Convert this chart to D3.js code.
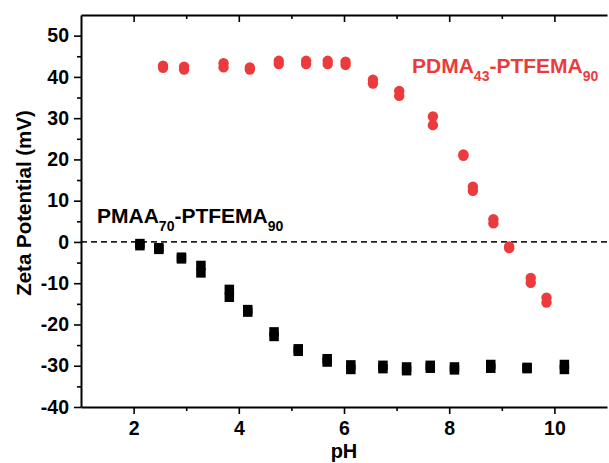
<!DOCTYPE html>
<html>
<head>
<meta charset="utf-8">
<script src="https://cdn.jsdelivr.net/npm/d3@7"></script>
<style>
  body { margin: 0; background: #fff; }
  svg text { font-family: "Liberation Sans", Arial, sans-serif; font-weight: bold; }
</style>
</head>
<body>
<svg width="609" height="463"></svg>
<script>
// PDMA43-PTFEMA90 (red circles), two runs per pH
const pdmaPH = [2.56, 2.96, 3.71, 4.21, 4.76, 5.28, 5.69, 6.03, 6.55, 7.05, 7.69, 8.27, 8.45, 8.84, 9.14, 9.55, 9.85];
const pdmaRunA = [42.7, 42.5, 43.3, 42.3, 43.9, 43.9, 43.9, 43.7, 39.3, 36.6, 30.4, 21.2, 13.4, 5.5, -1.1, -8.7, -13.5];
const pdmaRunB = [42.2, 41.8, 42.3, 41.8, 43.1, 43.1, 43.1, 42.9, 38.4, 35.4, 28.3, 20.9, 12.4, 4.5, -1.5, -9.9, -14.7];

// PMAA70-PTFEMA90 (black squares), two runs per pH
const pmaaPH = [2.12, 2.48, 2.91, 3.28, 3.82, 4.17, 4.67, 5.13, 5.68, 6.13, 6.74, 7.19, 7.64, 8.10, 8.79, 9.48, 10.19];
const pmaaRunA = [-0.4, -1.4, -3.7, -5.7, -11.5, -16.4, -21.8, -25.9, -28.3, -29.8, -29.9, -30.3, -29.9, -30.3, -29.7, -30.4, -29.7];
const pmaaRunB = [-0.9, -1.8, -4.1, -7.5, -13.4, -17.0, -22.9, -26.5, -29.1, -30.9, -30.7, -31.2, -30.6, -31.0, -30.6, -30.7, -30.9];

const xTicks = [2, 4, 6, 8, 10];
const yTicks = [-40, -30, -20, -10, 0, 10, 20, 30, 40, 50];

const svg = d3.select("svg");
const mLeft = 81, mRight = 607, mTop = 15, mBottom = 407;

let x = d3.scaleLinear().domain([1, 11]).range([mLeft, mRight]);
let y = d3.scaleLinear().domain([-40, 55]).range([mBottom, mTop]);

// zero line
svg.append("line")
    .attr("x1", mLeft).attr("x2", mRight)
    .attr("y1", y(0)).attr("y2", y(0))
    .attr("stroke", "#222").attr("stroke-width", 1.8)
    .attr("stroke-dasharray", "6,4");

// minor ticks
const xMinor = [3, 5, 7, 9];
const yMinor = [-35, -25, -15, -5, 5, 15, 25, 35, 45];
const plain = d => String(d);

svg.append("g").attr("transform", `translate(0,${mBottom})`)
    .call(d3.axisBottom(x).tickValues(xTicks).tickSize(7).tickSizeOuter(0).tickPadding(7).tickFormat(plain));
svg.append("g").attr("transform", `translate(0,${mBottom})`)
    .call(d3.axisBottom(x).tickValues(xMinor).tickSize(4).tickFormat(""))
    .select(".domain").remove();

svg.append("g").attr("transform", `translate(0,${mTop})`)
    .call(d3.axisBottom(x).tickValues(xTicks).tickSize(7).tickSizeOuter(0).tickFormat(""));
svg.append("g").attr("transform", `translate(0,${mTop})`)
    .call(d3.axisBottom(x).tickValues(xMinor).tickSize(4).tickFormat(""))
    .select(".domain").remove();

svg.append("g").attr("transform", `translate(${mLeft},0)`)
    .call(d3.axisLeft(y).tickValues(yTicks).tickSize(7).tickSizeOuter(0).tickPadding(5).tickFormat(plain));
svg.append("g").attr("transform", `translate(${mLeft},0)`)
    .call(d3.axisLeft(y).tickValues(yMinor).tickSize(4).tickFormat(""))
    .select(".domain").remove();

svg.selectAll(".domain").attr("stroke", "#000").attr("stroke-width", 2);
svg.selectAll(".tick line").attr("stroke", "#000").attr("stroke-width", 1.6);
svg.selectAll(".tick text").attr("fill", "#000").style("font-size", "19.5px");

// axis titles
svg.append("text")
    .attr("x", x(6)).attr("y", 458)
    .attr("text-anchor", "middle")
    .style("font-size", "20px")
    .text("pH");

svg.append("text")
    .attr("transform", `translate(31,${(mTop + mBottom) / 2 - 8}) rotate(-90)`)
    .attr("text-anchor", "middle")
    .style("font-size", "20.5px")
    .text("Zeta Potential (mV)");

// red circles
const pdmaPts = [];
pdmaPH.forEach((p, i) => {
    pdmaPts.push({ ph: p, v: pdmaRunA[i] });
    pdmaPts.push({ ph: p, v: pdmaRunB[i] });
});
svg.append("g").selectAll("circle")
    .data(pdmaPts)
    .enter().append("circle")
    .attr("cx", d => x(d.ph))
    .attr("cy", d => y(d.v))
    .attr("r", 5.2)
    .attr("fill", "#ec3b3d");

// black squares
const pmaaPts = [];
pmaaPH.forEach((p, i) => {
    pmaaPts.push({ ph: p, v: pmaaRunA[i] });
    pmaaPts.push({ ph: p, v: pmaaRunB[i] });
});
const sq = 9.5;
svg.append("g").selectAll("rect")
    .data(pmaaPts)
    .enter().append("rect")
    .attr("x", d => x(d.ph) - sq / 2)
    .attr("y", d => y(d.v) - sq / 2)
    .attr("width", sq).attr("height", sq)
    .attr("fill", "#000");

// series labels
function seriesLabel(px, py, color, name, sub1, sub2) {
    let t = svg.append("text")
        .attr("x", px).attr("y", py)
        .attr("fill", color)
        .style("font-size", "21px");
    t.append("tspan").text(name);
    t.append("tspan").attr("dy", 8).style("font-size", "14px").text(sub1);
    t.append("tspan").attr("dy", -8).text("-PTFEMA");
    t.append("tspan").attr("dy", 8).style("font-size", "14px").text(sub2);
}
seriesLabel(97, 223, "#000", "PMAA", "70", "90");
seriesLabel(412, 73, "#ec3b3d", "PDMA", "43", "90");
</script>
</body>
</html>
